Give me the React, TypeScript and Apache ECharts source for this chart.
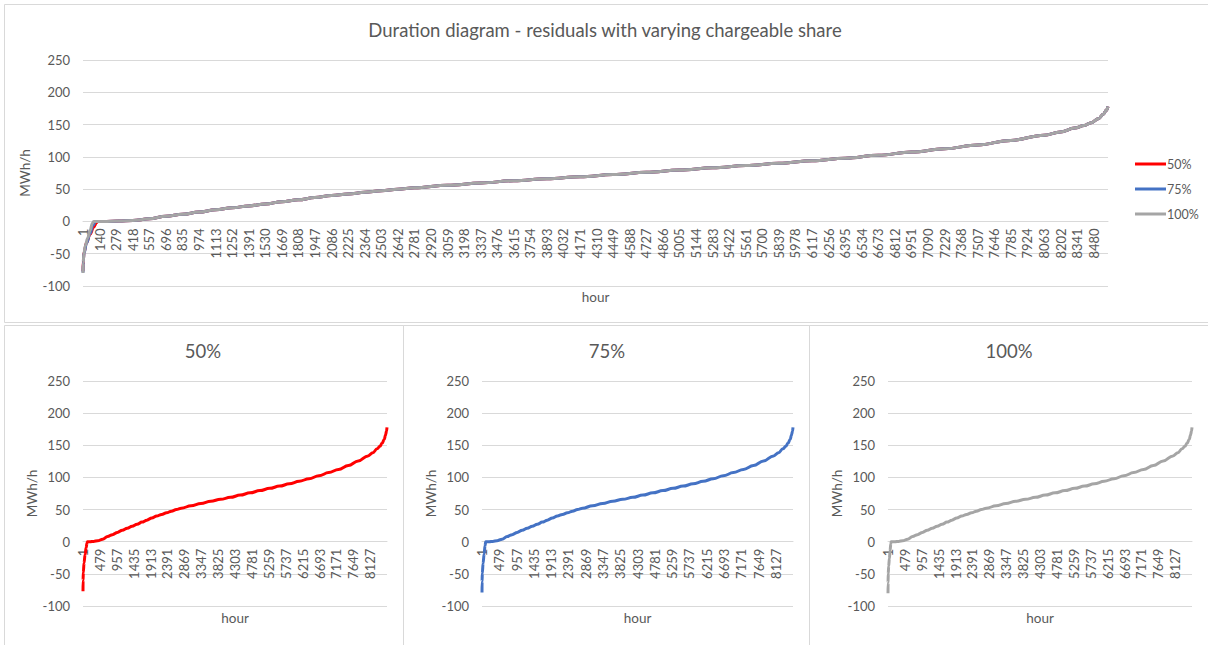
import React, { useEffect, useRef } from "react";
import * as echarts from "echarts";

// ---- data ----
const N_HOURS = 8600;
const hourCategories: string[] = Array.from({ length: N_HOURS }, (_, i) => String(i + 1));

const seriesNames = ["50%", "75%", "100%"];
const seriesColors = ["#FF0000", "#4472C4", "#A5A5A5"];

// start of the duration curve (negative residuals), differs per share
const start50Hours = [1, 3, 10, 30, 60, 90, 115, 125];
const start50Values = [-77, -60, -48, -33, -20, -9, -2, 0];
const start75Hours = [1, 3, 10, 30, 60, 85, 105];
const start75Values = [-79, -62, -49, -34, -19, -6, 0];
const start100Hours = [1, 3, 8, 20, 40, 60, 80, 90];
const start100Values = [-80, -64, -50, -38, -26, -14, -3, 0];

// rest of the curve (the three shares overlap here)
const tailHours = [
  200, 300, 418, 557, 696, 835, 974, 1113, 1252, 1391, 1530, 1669, 1808, 1947,
  2086, 2225, 2364, 2503, 2642, 2781, 3059, 3337, 3615, 3893, 4171, 4449, 4727,
  5005, 5283, 5561, 5839, 6117, 6395, 6673, 6951, 7229, 7507, 7785, 8063, 8200,
  8320, 8400, 8460, 8520, 8560, 8585, 8600,
];
const tailValues = [
  0, 0.5, 1.5, 4, 8, 11, 14.5, 18, 21, 24, 27, 30.5, 33.5, 37,
  40, 42.5, 45, 47.5, 50, 52, 56, 59.5, 63, 66, 69, 72.5, 76,
  79.5, 83, 86.5, 90, 94, 98, 102.5, 107.5, 112.5, 118.5, 125.5, 133.5, 138.5,
  144.5, 148.5, 153, 159, 166, 172, 178,
];

const yTicks = { min: -100, max: 250, interval: 50 };
const topLabelInterval = 139;
const bottomLabelInterval = 478;

const FONT = "Lato";
const TEXT = "#595959";
const GRID_LINE = "#D9D9D9";

function points(hours: number[], values: number[]) {
  return hours.map((h, i) => [h - 1, values[i]]);
}

const seriesData = [
  points(start50Hours.concat(tailHours), start50Values.concat(tailValues)),
  points(start75Hours.concat(tailHours), start75Values.concat(tailValues)),
  points(start100Hours.concat(tailHours), start100Values.concat(tailValues)),
];

export default function App() {
  const ref = useRef<HTMLDivElement>(null);

  useEffect(() => {
    if (!ref.current) return;
    const chart = echarts.init(ref.current, undefined, { renderer: "svg" });

    const grids = [
      { left: 83, top: 60, width: 1025, height: 226 },
      { left: 83, top: 381, width: 304, height: 225 },
      { left: 482, top: 381, width: 311, height: 225 },
      { left: 888, top: 381, width: 304, height: 225 },
    ];

    // x axis sits on the zero line: shift it up from the grid bottom
    const zeroOffset = (g: { height: number }) =>
      -(g.height * (0 - yTicks.min)) / (yTicks.max - yTicks.min);

    const xAxes = grids.map((g, gi) => ({
      type: "category",
      gridIndex: gi,
      data: hourCategories,
      boundaryGap: false,
      position: "bottom",
      offset: zeroOffset(g),
      axisLine: { onZero: false, lineStyle: { color: GRID_LINE, width: 1 } },
      axisTick: { show: false },
      axisLabel: {
        interval: (gi === 0 ? topLabelInterval : bottomLabelInterval) - 1,
        rotate: 90,
        color: TEXT,
        fontSize: 13,
        fontFamily: FONT,
        margin: 7,
      },
      splitLine: { show: false },
      name: "hour",
      nameLocation: "middle",
      nameGap: 69,
      nameTextStyle: { color: TEXT, fontSize: 13.5, fontFamily: FONT },
    }));

    const yAxes = grids.map((_, gi) => ({
      type: "value",
      gridIndex: gi,
      min: yTicks.min,
      max: yTicks.max,
      interval: yTicks.interval,
      axisLine: { show: false },
      axisTick: { show: false },
      axisLabel: { color: TEXT, fontSize: 13, fontFamily: FONT, margin: 13 },
      splitLine: { lineStyle: { color: GRID_LINE, width: 1 } },
      name: "MWh/h",
      nameLocation: "middle",
      nameGap: 40,
      nameTextStyle: { color: TEXT, fontSize: 13.5, fontFamily: FONT },
    }));

    const baseLine = (si: number, gi: number) => ({
      type: "line",
      name: seriesNames[si],
      xAxisIndex: gi,
      yAxisIndex: gi,
      data: seriesData[si],
      symbol: "none",
      smooth: 0.4,
      smoothMonotone: "x",
      color: seriesColors[si],
      lineStyle: { color: seriesColors[si], width: 3 },
      z: 2 + si,
    });

    const series = [
      baseLine(0, 0),
      baseLine(1, 0),
      baseLine(2, 0),
      baseLine(0, 1),
      baseLine(1, 2),
      baseLine(2, 3),
    ];

    const titleStyle = { fill: TEXT, font: `18.5px ${FONT}`, textAlign: "center", textVerticalAlign: "middle" };

    chart.setOption({
      animation: false,
      backgroundColor: "#FFFFFF",
      grid: grids,
      xAxis: xAxes,
      yAxis: yAxes,
      series,
      legend: {
        data: seriesNames.map((n) => ({ name: n, icon: "rect" })),
        orient: "vertical",
        left: 1130,
        top: 152,
        itemWidth: 31,
        itemHeight: 3,
        itemGap: 11,
        textStyle: { color: TEXT, fontSize: 12.5, fontFamily: FONT, padding: [0, 0, 0, -4], lineHeight: 14 },
      },
      graphic: [
        { type: "rect", silent: true, shape: { x: 4.5, y: 4.5, width: 1210, height: 318 }, style: { fill: "none", stroke: GRID_LINE, lineWidth: 1 } },
        { type: "rect", silent: true, shape: { x: 4.5, y: 325.5, width: 399, height: 330 }, style: { fill: "none", stroke: GRID_LINE, lineWidth: 1 } },
        { type: "rect", silent: true, shape: { x: 403.5, y: 325.5, width: 406, height: 330 }, style: { fill: "none", stroke: GRID_LINE, lineWidth: 1 } },
        { type: "rect", silent: true, shape: { x: 809.5, y: 325.5, width: 410, height: 330 }, style: { fill: "none", stroke: GRID_LINE, lineWidth: 1 } },
        { type: "text", x: 605, y: 30, style: { ...titleStyle, text: "Duration diagram - residuals with varying chargeable share" } },
        { type: "text", x: 203, y: 351, style: { ...titleStyle, text: "50%" } },
        { type: "text", x: 607, y: 351, style: { ...titleStyle, text: "75%" } },
        { type: "text", x: 1009, y: 351, style: { ...titleStyle, text: "100%" } },
      ],
    });

    return () => chart.dispose();
  }, []);

  return (
    <div
      ref={ref}
      style={{ position: "absolute", left: 0, top: 0, width: 1208, height: 645, background: "#fff" }}
    />
  );
}
